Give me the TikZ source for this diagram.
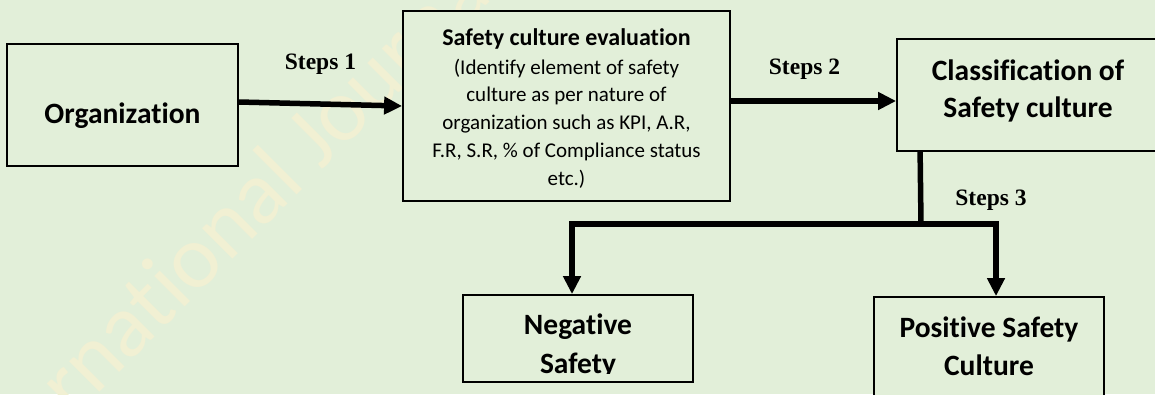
\documentclass[tikz,border=0pt]{standalone}
\usepackage{fontspec}
\setmainfont{Carlito}[Ligatures={NoCommon,NoContextual}]
\newfontfamily\stepsfont{Liberation Serif}
\usetikzlibrary{arrows.meta}
\definecolor{bggreen}{RGB}{226,239,217}
\definecolor{wmark}{RGB}{241,240,211}
\tikzset{
  box/.style={draw=black, line width=1.8pt, fill=bggreen, inner sep=0pt},
  big/.style={anchor=base, inner sep=0pt, font=\bfseries\fontsize{29.5}{36}\selectfont},
  head/.style={anchor=base, inner sep=0pt, font=\bfseries\fontsize{24}{29}\selectfont},
  body/.style={anchor=base, inner sep=0pt, font=\fontsize{21}{28}\selectfont},
  steplabel/.style={anchor=base, inner sep=0pt, font=\stepsfont\bfseries\fontsize{23.5}{28}\selectfont},
  flow/.style={line width=5.5pt, -{Triangle[length=18pt,width=17pt]}},
  trunk/.style={line width=5.5pt},
}
\begin{document}
\begin{tikzpicture}[x=1pt,y=-1pt]
\useasboundingbox (0,0) rectangle (1155,394);
\clip (0,0) rectangle (1155,394);
\fill[bggreen] (0,0) rectangle (1155,394);

% faint watermark
\node[rotate=45, anchor=base west, inner sep=0pt, text=wmark,
      font=\fontsize{90}{100}\selectfont] (wm) at (-28,520) {International Journal};

% boxes
\node[box, minimum width=231pt, minimum height=122pt] (org)  at (122.5,105) {};
\node[box, minimum width=327pt, minimum height=190pt] (eval) at (566.5,106) {};
\node[box, minimum width=262pt, minimum height=112pt] (cls)  at (1028,95) {};
\node[box, minimum width=230pt, minimum height=87pt]  (neg)  at (578,338.5) {};
\node[box, minimum width=230pt, minimum height=106pt] (pos)  at (989,350) {};

% box texts
\node[big] (orgt) at (122.5,123.3) {Organization};

\node[head] (evh) at (566.5,45) {Safety culture evaluation};
\node[body] (ev1) at (566.5,74)    {(Identify element of safety};
\node[body] (ev2) at (566.5,101.9) {culture as per nature of};
\node[body] (ev3) at (566.5,129.8) {organization such as KPI, A.R,};
\node[body] (ev4) at (566.5,157.7) {F.R, S.R, \% of Compliance status};
\node[body] (ev5) at (566.5,185.6) {etc.)};

\node[big] (cls1) at (1028,80)  {Classification of};
\node[big] (cls2) at (1028,117) {Safety culture};

\begin{scope}
  \clip (neg.north west) rectangle ([yshift=9.5pt]neg.south east);
  \node[big] (neg1) at (578,334) {Negative};
  \node[big] (neg2) at (578,373) {Safety};
\end{scope}

\node[big] (pos1) at (989,337) {Positive Safety};
\node[big] (pos2) at (989,375) {Culture};

% step labels
\node[steplabel] (s1) at (320.5,69)  {Steps 1};
\node[steplabel] (s2) at (804.5,74)  {Steps 2};
\node[steplabel] (s3) at (991,205.7) {Steps 3};

% connectors
\coordinate (fork) at (921,224);
\draw[flow] ([yshift=3pt]org.east) -- (eval.west);
\draw[flow] ([yshift=5pt]eval.east) -- ([yshift=-6pt]cls.west);
\draw[trunk] ([xshift=24pt]cls.south west) -- (fork);
\draw[flow] (fork) -| ([xshift=-6pt]neg.north);
\draw[flow] (fork) -| ([xshift=7pt]pos.north);
\end{tikzpicture}
\end{document}
